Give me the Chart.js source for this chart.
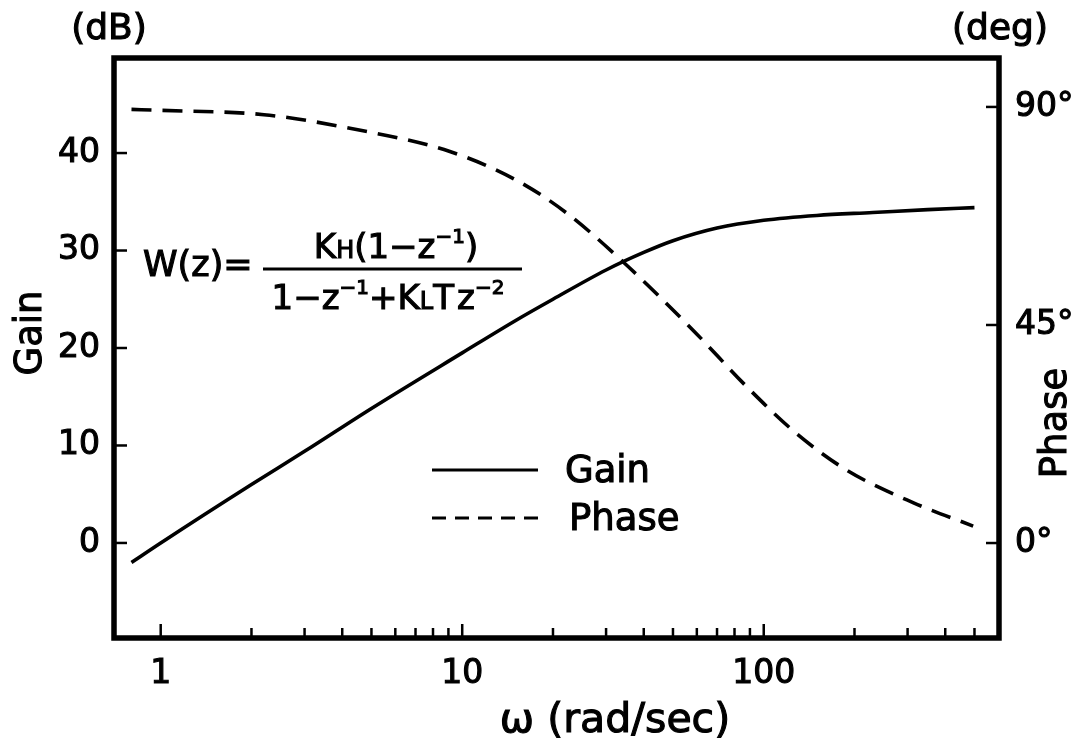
<!DOCTYPE html>
<html><head><meta charset="utf-8">
<script src="https://cdn.jsdelivr.net/npm/chart.js@4.4.1/dist/chart.umd.min.js"></script>
<style>html,body{margin:0;padding:0;background:#fff;}#wrap{width:1079px;height:746px;position:relative;}</style>
</head><body><div id="wrap"><canvas id="c" width="1079" height="746"></canvas></div>
<script>
// ---- data ----
const gainFreq = [0.8, 1, 2, 3, 5, 10, 15, 20, 30, 40, 50, 70, 100, 150, 230, 350, 500];
const gainDb   = [-2.0, 0.0, 6.0, 9.4, 13.8, 19.5, 22.8, 25.0, 28.0, 29.8, 31.0, 32.3, 33.1, 33.6, 33.9, 34.2, 34.4];
const phaseFreq = [0.8, 1, 2.2, 4.24, 9.1, 15.1, 22.1, 34.2, 57.3, 90, 129, 189, 314, 495];
const phaseDeg  = [89.5, 89.3, 88.4, 85.6, 80.8, 74.9, 68.2, 58.0, 44.4, 31.6, 22.5, 15.0, 8.3, 3.5];
const xTickValues = [1,2,3,4,5,6,7,8,9,10,20,30,40,50,60,70,80,90,100,200,300,400,500];
const xLabelValues = [1, 10, 100];
const gainTickValues = [0, 10, 20, 30, 40];
const phaseTickValues = [0, 45, 90];
const seriesNames = ['Gain', 'Phase'];

const FAM = "'DejaVu Sans', sans-serif";
const tickFont = {family: FAM, size: 33};

function pts(xs, ys){ return xs.map((x,i)=>({x:x, y:ys[i]})); }

const framePlugin = {
  id: 'frame',
  afterDatasetsDraw(chart){
    const {ctx, chartArea:a, scales} = chart;
    ctx.save();
    ctx.strokeStyle = '#000'; ctx.fillStyle = '#000'; ctx.lineCap = 'butt';
    const seg = (x1,y1,x2,y2)=>{ctx.beginPath();ctx.moveTo(x1,y1);ctx.lineTo(x2,y2);ctx.stroke();};
    // inward tick marks
    ctx.lineWidth = 2.5;
    scales.x.ticks.forEach(t=>{
      const px = scales.x.getPixelForValue(t.value);
      const len = xLabelValues.includes(t.value) ? 14 : 10;
      seg(px, a.bottom, px, a.bottom - len);
    });
    scales.y.ticks.forEach(t=>{ const py = scales.y.getPixelForValue(t.value); seg(a.left, py, a.left + 13, py); });
    scales.y1.ticks.forEach(t=>{ const py = scales.y1.getPixelForValue(t.value); seg(a.right, py, a.right - 13, py); });
    // frame
    ctx.lineWidth = 5.5;
    ctx.strokeRect(a.left, a.top, a.right - a.left, a.bottom - a.top);

    // texts (filled + light stroke for the heavier lettering look)
    const txt = (s, x, y) => { ctx.fillText(s, x, y); ctx.lineWidth = 1.1; ctx.strokeText(s, x, y); };
    ctx.textBaseline = 'middle';
    ctx.textAlign = 'center';
    ctx.font = `36px ${FAM}`;
    txt('(dB)', 109, 30);
    txt('(deg)', 1000, 30);
    ctx.font = `41px ${FAM}`;
    txt('ω (rad/sec)', 615, 721);
    ctx.font = `37px ${FAM}`;
    ctx.save(); ctx.translate(31, 333); ctx.rotate(-Math.PI/2); txt('Gain', 0, 0); ctx.restore();
    ctx.save(); ctx.translate(1056, 423); ctx.rotate(-Math.PI/2); txt('Phase', 0, 0); ctx.restore();

    // legend (inside plot)
    const ds = chart.data.datasets;
    const legY = [470, 518];
    ds.forEach((d,i)=>{
      ctx.save();
      ctx.lineWidth = 3;
      ctx.setLineDash(i === 0 ? [] : [14, 9]);
      seg(432, legY[i], 538, legY[i]);
      ctx.restore();
      ctx.textAlign = 'left';
      ctx.font = `37px ${FAM}`;
      txt(d.label, i === 0 ? 565 : 569, legY[i] + 2);
    });

    // formula
    const runs = (list, x, y, align) => {
      let w = 0;
      list.forEach(r => { ctx.font = `${r[1]}px ${FAM}`; w += ctx.measureText(r[0]).width; });
      let cx = align === 'center' ? x - w/2 : x;
      ctx.textAlign = 'left';
      list.forEach(r => { ctx.font = `${r[1]}px ${FAM}`; txt(r[0], cx, y + (r[2]||0)); cx += ctx.measureText(r[0]).width; });
    };
    runs([['W(z)=', 35]], 143, 267, 'left');
    ctx.lineWidth = 3;
    seg(263, 269, 522, 269);
    runs([['K',34],['H',24,3],['(1−z',34],['−1',20,-11],[')',34]], 396, 249, 'center');
    runs([['1−z',34],['−1',20,-11],['+K',34],['L',24,3],['T',34],[' ',10],['z',34],['−2',20,-11]], 388, 300, 'center');
    ctx.restore();
  }
};

const tickCommon = {font: tickFont, color: '#000', textStrokeColor: '#000', textStrokeWidth: 1.1};

new Chart(document.getElementById('c'), {
  type: 'scatter',
  data: {
    datasets: [
      {label: seriesNames[0], data: pts(gainFreq, gainDb), yAxisID: 'y', showLine: true,
       borderColor: '#000', borderWidth: 3.6, pointRadius: 0, cubicInterpolationMode: 'monotone', fill: false},
      {label: seriesNames[1], data: pts(phaseFreq, phaseDeg), yAxisID: 'y1', showLine: true,
       borderColor: '#000', borderWidth: 3.6, borderDash: [20, 11], pointRadius: 0, cubicInterpolationMode: 'monotone', fill: false}
    ]
  },
  options: {
    responsive: false, animation: false, devicePixelRatio: 1,
    layout: {padding: {top: 58, left: 0, right: 0, bottom: 0}},
    plugins: {legend: {display: false}, tooltip: {enabled: false}},
    scales: {
      x: {type: 'logarithmic', position: 'bottom', min: 0.715, max: 603,
          afterBuildTicks: s => { s.ticks = xTickValues.map(v => ({value: v, major: xLabelValues.includes(v)})); },
          afterFit: s => { s.height = 108; },
          grid: {display: false, drawTicks: false}, border: {display: false},
          ticks: Object.assign({padding: 17, maxRotation: 0, autoSkip: false,
                  callback: v => xLabelValues.includes(v) ? String(v) : ''}, tickCommon)},
      y: {type: 'linear', position: 'left', min: -9.75, max: 49.75,
          afterBuildTicks: s => { s.ticks = gainTickValues.map(v => ({value: v})); },
          afterFit: s => { s.width = 114; },
          grid: {display: false, drawTicks: false}, border: {display: false},
          ticks: Object.assign({padding: 14, callback: v => String(v)}, tickCommon)},
      y1: {type: 'linear', position: 'right', min: -19.6, max: 100.1,
          afterBuildTicks: s => { s.ticks = phaseTickValues.map(v => ({value: v})); },
          afterFit: s => { s.width = 80; },
          grid: {display: false, drawTicks: false}, border: {display: false},
          ticks: Object.assign({padding: 16, callback: v => v + '°'}, tickCommon)}
    }
  },
  plugins: [framePlugin]
});
</script></body></html>
